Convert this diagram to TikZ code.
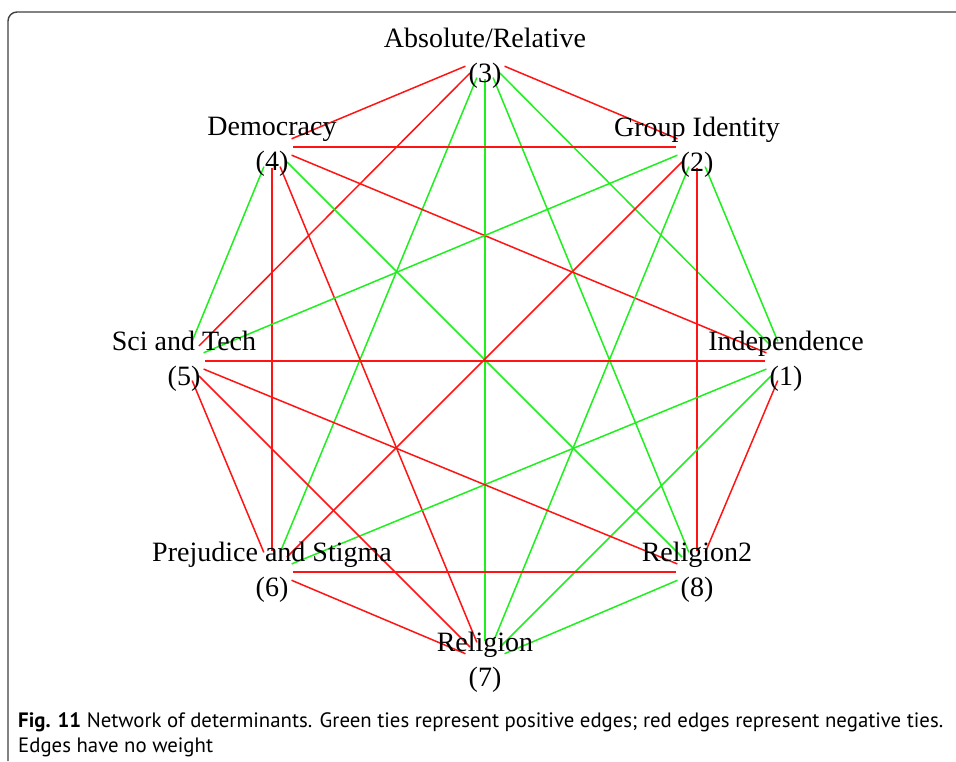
\documentclass[tikz,border=0pt]{standalone}
\usepackage{fontspec}
\setmainfont{Liberation Serif}
\newfontfamily\capfont{PT Sans}
\definecolor{negc}{RGB}{255,20,20}
\definecolor{posc}{RGB}{30,240,30}
\begin{document}
\begin{tikzpicture}[x=1pt,y=-1pt,
  vtx/.style={circle,minimum size=42pt,inner sep=0pt},
  lbl/.style={align=center,inner sep=0pt,font=\fontsize{28}{35}\selectfont},
  negedge/.style={draw=negc,line width=1.5pt},
  posedge/.style={draw=posc,line width=1.5pt},
  framestyle/.style={draw=black!75,line width=1.4pt},
  capstyle/.style={anchor=base west,inner sep=0pt,font=\capfont\fontsize{20.8}{25}\selectfont}]
\useasboundingbox (0,0) rectangle (956,761);
\fill[white] (0,0) rectangle (956,761);
% frame
\coordinate (fb) at (8,761);
\coordinate (fr) at (956,12);
\draw[framestyle,rounded corners=9pt] (fb) |- (fr);
% vertices
\node[vtx] (v1) at (786,361) {};
\node[vtx] (v2) at (697,147) {};
\node[vtx] (v3) at (485,58) {};
\node[vtx] (v4) at (272,147) {};
\node[vtx] (v5) at (184,361) {};
\node[vtx] (v6) at (272,572) {};
\node[vtx] (v7) at (485,662) {};
\node[vtx] (v8) at (697,572) {};
% edges
\draw[negedge] (v3) -- (v4);
\draw[negedge] (v3) -- (v2);
\draw[negedge] (v3) -- (v5);
\draw[posedge] (v3) -- (v6);
\draw[posedge] (v3) -- (v7);
\draw[posedge] (v3) -- (v8);
\draw[posedge] (v3) -- (v1);
\draw[negedge] (v4) -- (v2);
\draw[negedge] (v4) -- (v1);
\draw[posedge] (v4) -- (v8);
\draw[negedge] (v4) -- (v7);
\draw[negedge] (v4) -- (v6);
\draw[posedge] (v4) -- (v5);
\draw[posedge] (v2) -- (v5);
\draw[negedge] (v2) -- (v6);
\draw[posedge] (v2) -- (v7);
\draw[negedge] (v2) -- (v8);
\draw[posedge] (v2) -- (v1);
\draw[negedge] (v1) -- (v5);
\draw[posedge] (v1) -- (v6);
\draw[posedge] (v1) -- (v7);
\draw[negedge] (v1) -- (v8);
\draw[negedge] (v5) -- (v8);
\draw[negedge] (v5) -- (v7);
\draw[negedge] (v5) -- (v6);
\draw[negedge] (v6) -- (v8);
\draw[negedge] (v6) -- (v7);
\draw[posedge] (v8) -- (v7);
% labels
\node[lbl] (t1) at (v1) {Independence\\(1)};
\node[lbl] (t2) at (v2) {Group Identity\\(2)};
\node[lbl] (t3) at (v3) {Absolute/Relative\\(3)};
\node[lbl] (t4) at (v4) {Democracy\\(4)};
\node[lbl] (t5) at (v5) {Sci and Tech\\(5)};
\node[lbl] (t6) at (v6) {Prejudice and Stigma\\(6)};
\node[lbl] (t7) at (v7) {Religion\\(7)};
\node[lbl] (t8) at (v8) {Religion2\\(8)};
% caption
\node[capstyle] (c1) at (18,727) {\textbf{Fig. 11} Network of determinants. Green ties represent positive edges; red edges represent negative ties.};
\node[capstyle] (c2) at (18,752) {Edges have no weight};
\end{tikzpicture}
\end{document}
